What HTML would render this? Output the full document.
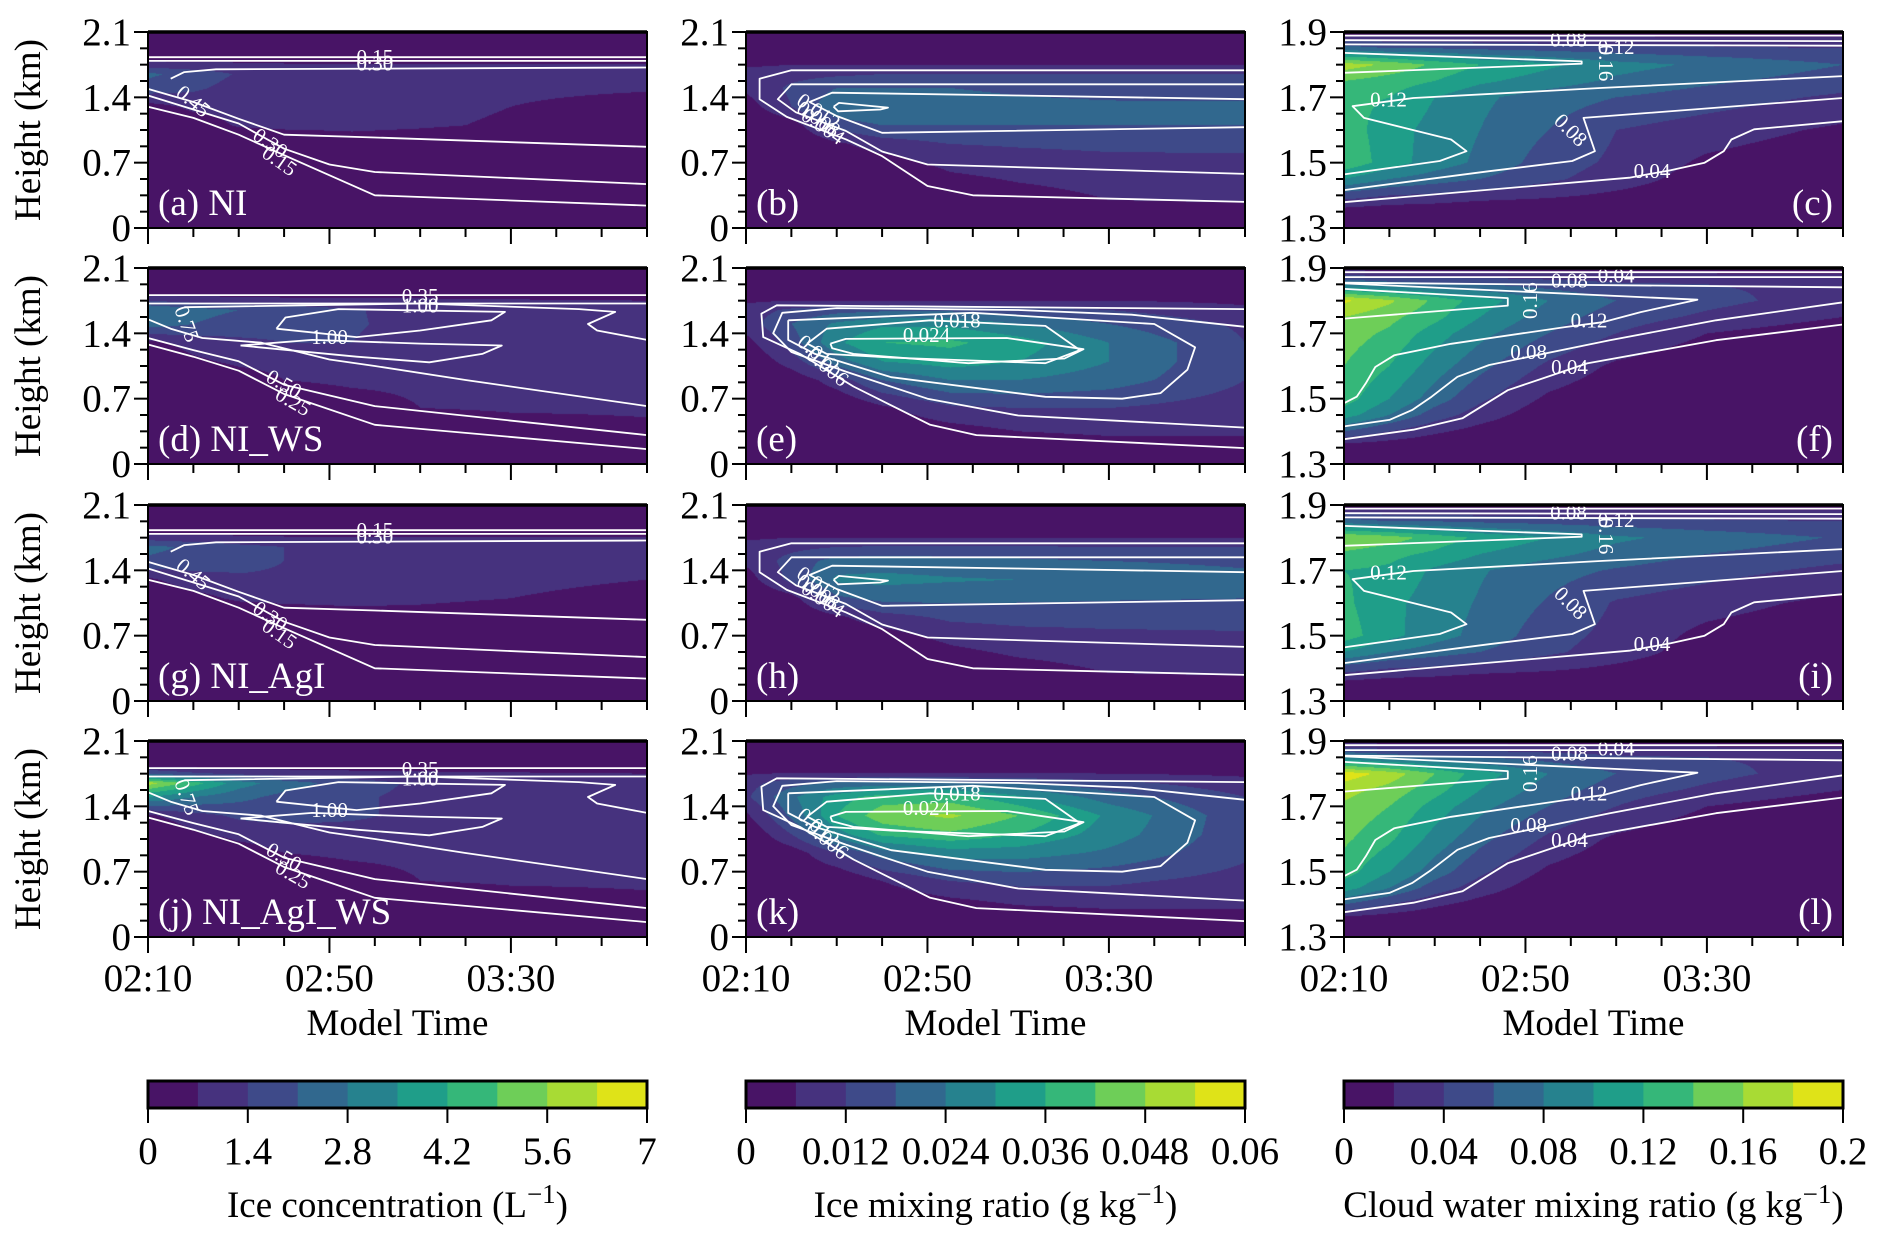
<!DOCTYPE html>
<html><head><meta charset="utf-8">
<style>
html,body{margin:0;padding:0;background:#fff;}
#wrap{position:relative;width:1892px;height:1246px;overflow:hidden;}
canvas{position:absolute;}
svg{position:absolute;left:0;top:0;font-family:"Liberation Serif",serif;}
svg text{font-family:"Liberation Serif",serif;}
</style></head>
<body>
<div id="wrap">
<svg id="ov" width="1892" height="1246" font-family="Liberation Serif, serif"></svg>
</div>
<script>
// ---- data (grids in contour-level units: value / level step) ----
const times=[0,10,20,30,45,60,80,110];            // minutes after 02:10
const hIce=[0,0.3,0.6,0.9,1.1,1.3,1.5,1.65,1.75,1.85,2.1];
const hCw=[1.3,1.35,1.4,1.45,1.5,1.6,1.7,1.75,1.8,1.85,1.9];
const xTickLabels=['02:10','02:50','03:30'];
const iceTicks=['0','0.7','1.4','2.1'];
const cwTicks=['1.3','1.5','1.7','1.9'];
const cbIceLabels=['0','1.4','2.8','4.2','5.6','7'];
const cbMixLabels=['0','0.012','0.024','0.036','0.048','0.06'];
const cbCwLabels=['0','0.04','0.08','0.12','0.16','0.2'];
const colors=['#481466','#46327e','#3e4a89','#31688e','#26828e','#1f9e89','#35b779','#6ece58','#a8db34','#dfe318'];

const gridA=[[0,0,0,0,0,0,0,0],[0,0,0,0,0,0,0,0],[0,0,0,0,0,0,0,0],[0,0,0,0.3,0.6,0.5,0.3,0.2],[0,0.5,1.1,1.2,1.2,1.1,0.9,0.6],[0.6,1.2,1.3,1.3,1.3,1.2,1.0,0.8],[2.6,2.2,1.6,1.4,1.3,1.2,1.1,1.05],[3.2,2.6,1.9,1.4,1.3,1.2,1.2,1.1],[1.4,1.3,1.2,1.1,1.1,1.1,1.1,1.1],[0.3,0.3,0.3,0.3,0.3,0.3,0.3,0.3],[0,0,0,0,0,0,0,0]];
const gridG=[[0,0,0,0,0,0,0,0],[0,0,0,0,0,0,0,0],[0,0,0,0,0,0,0,0],[0,0,0,0.3,0.6,0.6,0.4,0.2],[0,0.6,1.2,1.3,1.3,1.2,1.0,0.7],[0.8,1.6,1.9,1.9,1.8,1.5,1.2,1.0],[2.8,2.5,2.2,2.0,2.0,1.8,1.4,1.2],[3.3,2.8,2.3,2.0,1.9,1.6,1.3,1.2],[1.5,1.3,1.2,1.1,1.1,1.1,1.1,1.1],[0.3,0.3,0.3,0.3,0.3,0.3,0.3,0.3],[0,0,0,0,0,0,0,0]];
const gridD=[[0,0,0,0,0,0,0,0],[0,0,0,0,0,0,0.5,0.8],[0,0,0,0,0.5,1.0,1.1,1.1],[0,0,0.5,1.0,1.2,1.2,1.2,1.1],[0,0.8,1.2,1.3,1.3,1.3,1.2,1.1],[0.7,1.4,1.8,2.0,2.0,1.6,1.3,1.1],[3.5,3.0,2.5,2.3,2.1,1.7,1.3,1.1],[4.0,3.4,3.0,2.6,2.1,1.6,1.3,1.1],[2.0,1.6,1.4,1.3,1.2,1.2,1.1,1.0],[0.4,0.4,0.4,0.4,0.4,0.4,0.4,0.4],[0,0,0,0,0,0,0,0]];
const gridJ=[[0,0,0,0,0,0,0,0],[0,0,0,0,0,0,0.5,0.8],[0,0,0,0,0.5,1.0,1.1,1.1],[0,0,0.5,1.0,1.2,1.2,1.2,1.1],[0,0.8,1.3,1.5,1.5,1.4,1.2,1.1],[0.8,1.6,2.2,2.4,2.2,1.7,1.3,1.1],[5.0,4.0,3.3,2.7,2.2,1.7,1.3,1.1],[8.5,6.5,4.5,3.5,2.5,1.8,1.3,1.1],[3.0,2.2,1.8,1.5,1.3,1.2,1.1,1.0],[0.4,0.4,0.4,0.4,0.4,0.4,0.4,0.4],[0,0,0,0,0,0,0,0]];
const gridB=[[0,0,0,0,0,0,0,0],[0,0,0,0,0,0.5,1.0,1.1],[0,0,0,0,1.0,1.3,1.5,1.6],[0,0,0.8,1.5,2.0,2.1,2.2,2.2],[0,0.5,2.5,3.0,3.0,3.0,3.0,3.0],[0.5,2.0,3.8,4.0,3.5,3.3,3.2,3.2],[1.2,2.2,3.0,3.0,3.0,2.8,2.6,2.5],[1.5,1.6,1.8,2.0,2.0,2.0,2.0,2.0],[0.8,1.0,1.0,1.0,1.0,1.0,1.0,1.0],[0,0,0,0,0,0,0,0],[0,0,0,0,0,0,0,0]];
const gridH=[[0,0,0,0,0,0,0,0],[0,0,0,0,0,0.5,1.0,1.1],[0,0,0,0,1.0,1.4,1.6,1.7],[0,0,0.8,1.6,2.2,2.3,2.3,2.3],[0,0.6,2.8,3.3,3.3,3.2,3.1,3.0],[0.5,2.3,4.2,4.3,4.1,4.0,3.8,3.3],[1.2,2.4,3.4,3.5,3.4,3.2,3.0,2.8],[1.5,1.7,2.0,2.1,2.1,2.1,2.0,2.0],[0.8,1.0,1.0,1.0,1.0,1.0,1.0,1.0],[0,0,0,0,0,0,0,0],[0,0,0,0,0,0,0,0]];
const gridE=[[0,0,0,0,0,0,0,0],[0,0,0,0,0.3,0.8,1.0,1.0],[0,0,0,0.8,1.8,2.0,2.0,1.5],[0,0.3,1.5,3.0,4.0,4.0,3.5,2.0],[0,1.5,3.5,5.0,5.5,5.0,4.0,2.0],[0.6,2.5,4.8,6.0,6.2,5.5,4.0,2.0],[1.5,3.0,4.2,4.8,4.8,4.0,3.0,1.8],[1.5,2.2,2.6,2.8,2.8,2.5,2.0,1.2],[0.8,1.0,1.0,1.0,1.0,1.0,1.0,0.8],[0.2,0.2,0.2,0.2,0.2,0.2,0.2,0.2],[0,0,0,0,0,0,0,0]];
const gridK=[[0,0,0,0,0,0,0,0],[0,0,0,0,0.3,0.8,1.0,1.0],[0,0,0,1.0,2.0,2.3,2.2,1.6],[0,0.4,2.0,3.5,4.5,4.5,3.8,2.2],[0,2.0,4.5,6.2,6.8,6.0,4.5,2.3],[0.8,3.2,6.0,7.6,8.2,7.0,4.8,2.3],[1.8,3.8,5.5,6.5,6.5,5.2,3.5,2.0],[1.6,2.6,3.2,3.4,3.4,3.0,2.3,1.4],[0.9,1.1,1.1,1.1,1.1,1.1,1.0,0.8],[0.2,0.2,0.2,0.2,0.2,0.2,0.2,0.2],[0,0,0,0,0,0,0,0]];
const gridC=[[0,0,0,0,0,0,0,0],[0.5,0.3,0.2,0,0,0,0,0],[2.5,2.0,1.8,1.5,1.2,0.8,0.3,0],[5,4,3.5,3,2.2,1.5,0.5,0],[6.8,5.5,4.5,3.8,2.5,1.8,0.8,0.2],[6.5,5.5,4.6,4,3,2,1.5,0.8],[6.2,6,5,4.2,3.5,3,2.5,1.8],[7,6.5,6,5.2,4.5,3.8,3.2,2.5],[8.5,7.8,6.8,6,5.2,4.4,3.8,3],[3.5,3,3,2.8,2.6,2.4,2.2,2],[0.5,0.5,0.5,0.5,0.5,0.5,0.5,0.5]];
const gridI=[[0,0,0,0,0,0,0,0],[0.5,0.3,0.2,0,0,0,0,0],[2.5,2.0,1.8,1.5,1.2,0.8,0.3,0],[5,4,3.5,3,2.2,1.5,0.5,0],[6.5,5.3,4.4,3.7,2.4,1.7,0.7,0.2],[6.2,5.3,4.5,3.9,2.9,1.9,1.4,0.7],[6,5.8,4.8,4.1,3.4,2.9,2.4,1.7],[6.8,6.3,5.8,5,4.3,3.6,3,2.4],[8,7.5,6.6,5.8,5,4.2,3.6,2.9],[3.5,3,3,2.8,2.6,2.4,2.2,2],[0.5,0.5,0.5,0.5,0.5,0.5,0.5,0.5]];
const gridF=[[0,0,0,0,0,0,0,0],[0.3,0.2,0,0,0,0,0,0],[3,2,1.2,0.6,0,0,0,0],[5.5,4,2.5,1.5,0.3,0,0,0],[6.5,5,3.5,2.2,0.8,0.2,0,0],[7,6,4.5,3.3,1.8,0.8,0.2,0],[7.5,6.8,5.5,4.3,3,2,1,0.3],[8,7.3,6.3,5,3.5,2.5,1.8,1],[9.2,8.2,6.8,5.5,4,3,2.3,1.5],[4,3.5,3.2,3,2.6,2.2,2,1.8],[0.5,0.5,0.5,0.5,0.5,0.5,0.5,0.5]];
const gridL=[[0,0,0,0,0,0,0,0],[0.3,0.2,0,0,0,0,0,0],[3,2,1.2,0.6,0,0,0,0],[5.5,4,2.5,1.5,0.3,0,0,0],[6.5,5,3.5,2.2,0.8,0.2,0,0],[7.2,6.2,4.6,3.3,1.8,0.8,0.2,0],[7.8,7,5.6,4.3,3,2,1,0.3],[8.4,7.6,6.4,5,3.5,2.5,1.8,1],[9.6,8.6,7,5.5,4,3,2.3,1.5],[4.2,3.6,3.2,3,2.6,2.2,2,1.8],[0.5,0.5,0.5,0.5,0.5,0.5,0.5,0.5]];

// contour lines: arrays of [minutes, height]
const linesA=[[[0,1.83],[110,1.83]],[[0,1.79],[110,1.79]],[[5,1.60],[8,1.67],[15,1.70],[110,1.72]],[[0,1.49],[10,1.35],[20,1.17],[30,1.0],[50,0.97],[110,0.87]],[[0,1.42],[10,1.27],[20,1.12],[30,0.85],[40,0.68],[50,0.6],[110,0.47]],[[0,1.3],[10,1.18],[20,1.0],[30,0.78],[50,0.35],[110,0.24]]];
const labelsA=[[50,1.83,'0.15',0],[50,1.76,'0.30',0],[10,1.36,'0.45',40],[27,0.91,'0.30',35],[29,0.72,'0.15',35]];
const linesD=[[[0,1.81],[110,1.81]],[[0,1.72],[110,1.72]],[[28.3,1.45],[30.3,1.57],[42,1.66],[78.7,1.63],[75.7,1.54],[60,1.43],[46,1.36],[28.3,1.45]],[[20.4,1.27],[36.2,1.33],[60,1.29],[78,1.27],[73.7,1.18],[62,1.09],[46,1.15],[20.4,1.27]],[[8,1.68],[60,1.72],[95,1.66],[103,1.63],[97,1.5],[99,1.43],[110,1.33]],[[0,1.55],[5,1.45],[12,1.35],[25,1.3],[40,1.12],[50,1.05],[70,0.9],[110,0.62]],[[0,1.35],[10,1.22],[20,1.1],[30,0.85],[50,0.62],[110,0.31]],[[0,1.28],[10,1.15],[20,1.0],[30,0.75],[50,0.42],[110,0.16]]];
const labelsD=[[60,1.80,'0.35',0],[60,1.70,'1.00',0],[40,1.36,'1.00',0],[8.6,1.5,'0.75',70],[30,0.86,'0.50',30],[32,0.67,'0.25',30]];
const linesB=[[[110,1.69],[10,1.69],[3,1.60],[3,1.38],[9,1.19],[22,0.95],[30,0.77],[40,0.45],[50,0.35],[110,0.28]],[[110,1.54],[10,1.54],[7,1.38],[11,1.24],[22,1.04],[30,0.82],[40,0.68],[110,0.58]],[[110,1.38],[60,1.42],[19,1.45],[14,1.35],[20,1.20],[30,1.02],[110,1.08]],[[19.3,1.30],[20.5,1.34],[31.3,1.29],[29.6,1.27],[20.3,1.25],[19.3,1.30]]];
const labelsB=[[16,1.25,'0.012',35],[16,1.17,'0.008',35],[17,1.09,'0.004',35]];
const linesE=[[[110,1.66],[6.8,1.70],[3.4,1.61],[3.8,1.36],[11.9,1.18],[23.7,0.83],[40.6,0.42],[50.8,0.31],[110,0.17]],[[110,1.47],[85,1.60],[60,1.65],[20,1.67],[8,1.62],[6,1.40],[10,1.2],[22,0.99],[40,0.7],[60,0.52],[110,0.39]],[[9.3,1.54],[50,1.62],[90,1.50],[99,1.25],[97.3,1.01],[91.4,0.76],[82.9,0.70],[66,0.72],[32,0.93],[15.2,1.18],[9.3,1.33],[9.3,1.54]],[[13.5,1.29],[17.8,1.45],[40.6,1.54],[66,1.48],[73.6,1.22],[66,1.08],[32.1,1.14],[17.8,1.18],[13.5,1.29]],[[18.6,1.29],[22,1.34],[57.5,1.35],[74.4,1.23],[70.2,1.13],[49,1.08],[23.7,1.18],[19,1.24],[18.6,1.29]]];
const labelsE=[[46.5,1.54,'0.018',0],[39.8,1.38,'0.024',0],[16,1.18,'0.012',40],[18,1.04,'0.006',40]];
const linesC=[[[0,1.889],[110,1.889]],[[0,1.875],[110,1.872]],[[0,1.862],[110,1.858]],[[0,1.836],[52.4,1.81],[52.4,1.803],[0,1.775]],[[110,1.765],[57,1.729],[15.3,1.698],[1.9,1.673],[4.4,1.637],[23.6,1.571],[27,1.535],[21.1,1.505],[0,1.464]],[[110,1.698],[52.8,1.637],[55.3,1.535],[50.3,1.505],[32,1.474],[0,1.416]],[[110,1.627],[90.4,1.602],[85.4,1.571],[83.7,1.535],[79.5,1.5],[72,1.477],[62.9,1.454],[0,1.379]]];
const labelsC=[[49.5,1.877,'0.08',0],[60,1.854,'0.12',0],[57.8,1.805,'0.16',90],[9.8,1.693,'0.12',0],[50,1.6,'0.08',45],[67.9,1.474,'0.04',0]];
const linesF=[[[0,1.887],[110,1.887]],[[0,1.872],[110,1.872]],[[0,1.855],[110,1.841]],[[0,1.836],[36.1,1.808],[36.1,1.785],[0,1.745]],[[0,1.853],[77.9,1.803],[65.4,1.765],[57,1.734],[48.7,1.719],[23.6,1.668],[11.1,1.633],[6.9,1.597],[4.8,1.547],[2.8,1.506],[0,1.486]],[[110,1.795],[82,1.74],[58.6,1.679],[32,1.603],[25,1.567],[19.3,1.506],[15,1.465],[10,1.435],[0,1.415]],[[110,1.727],[82,1.679],[53.6,1.608],[36.1,1.526],[26.1,1.44],[15.3,1.405],[0,1.376]]];
const labelsF=[[49.7,1.861,'0.08',0],[60,1.877,'0.04',0],[41,1.8,'0.16',-90],[54,1.74,'0.12',0],[40.7,1.643,'0.08',0],[49.7,1.597,'0.04',0]];

// ---- layout ----
const colX=[148,746,1344], colW=499;
const rowY=[32,268,505,741], rowH=196;
const NS='http://www.w3.org/2000/svg';
const svg=document.getElementById('ov');
const wrap=document.getElementById('wrap');
const FF='Liberation Serif, serif';
function el(tag,attrs,parent){const e=document.createElementNS(NS,tag);for(const k in attrs)e.setAttribute(k,attrs[k]);if(tag==='text')e.setAttribute('font-family',FF);(parent||svg).appendChild(e);return e;}
function interp(grid,H,t,h){
  let i=0;while(i<times.length-2&&t>times[i+1])i++;
  let j=0;while(j<H.length-2&&h>H[j+1])j++;
  const fx=Math.max(0,Math.min(1,(t-times[i])/(times[i+1]-times[i])));
  const fy=Math.max(0,Math.min(1,(h-H[j])/(H[j+1]-H[j])));
  const a=grid[j][i],b=grid[j][i+1],c=grid[j+1][i],d=grid[j+1][i+1];
  return a*(1-fx)*(1-fy)+b*fx*(1-fy)+c*(1-fx)*fy+d*fx*fy;
}
function hex(c){return [parseInt(c.slice(1,3),16),parseInt(c.slice(3,5),16),parseInt(c.slice(5,7),16)];}
const rgb=colors.map(hex);

const panels=[
 {r:0,c:0,g:gridA,l:linesA,lb:labelsA,tag:'(a) NI',n:'a'},
 {r:0,c:1,g:gridB,l:linesB,lb:labelsB,tag:'(b)',n:'b'},
 {r:0,c:2,g:gridC,l:linesC,lb:labelsC,tag:'(c)',n:'c'},
 {r:1,c:0,g:gridD,l:linesD,lb:labelsD,tag:'(d) NI_WS',n:'d'},
 {r:1,c:1,g:gridE,l:linesE,lb:labelsE,tag:'(e)',n:'e'},
 {r:1,c:2,g:gridF,l:linesF,lb:labelsF,tag:'(f)',n:'f'},
 {r:2,c:0,g:gridG,l:linesA,lb:labelsA,tag:'(g) NI_AgI',n:'g'},
 {r:2,c:1,g:gridH,l:linesB,lb:labelsB,tag:'(h)',n:'h'},
 {r:2,c:2,g:gridI,l:linesC,lb:labelsC,tag:'(i)',n:'i'},
 {r:3,c:0,g:gridJ,l:linesD,lb:labelsD,tag:'(j) NI_AgI_WS',n:'j'},
 {r:3,c:1,g:gridK,l:linesE,lb:labelsE,tag:'(k)',n:'k'},
 {r:3,c:2,g:gridL,l:linesF,lb:labelsF,tag:'(l)',n:'l'}
];

panels.forEach(p=>{
  const x0=colX[p.c], y0=rowY[p.r];
  const cw=p.c===2;
  const H=cw?hCw:hIce, ymin=cw?1.3:0, ymax=cw?1.9:2.1;
  const sx=t=>x0+t/110*colW;
  const sy=h=>y0+rowH-(h-ymin)/(ymax-ymin)*rowH;
  const cv=document.createElement('canvas');
  cv.width=colW;cv.height=rowH;cv.style.left=x0+'px';cv.style.top=y0+'px';
  
  
  wrap.insertBefore(cv,svg);
  const ctx=cv.getContext('2d');const img=ctx.createImageData(colW,rowH);
  for(let y=0;y<rowH;y++){const h=ymax-(y+0.5)/rowH*(ymax-ymin);
    for(let x=0;x<colW;x++){const t=(x+0.5)/colW*110;
      let v=Math.floor(interp(p.g,H,t,h));v=Math.max(0,Math.min(9,v));
      const k=(y*colW+x)*4;img.data[k]=rgb[v][0];img.data[k+1]=rgb[v][1];img.data[k+2]=rgb[v][2];img.data[k+3]=255;}}
  ctx.putImageData(img,0,0);
  const g=el('g',{});
  
  
  p.l.forEach(line=>{
    const pl=el('polyline',{points:line.map(q=>sx(q[0]).toFixed(1)+','+sy(q[1]).toFixed(1)).join(' '),fill:'none',stroke:'#fff','stroke-width':1.8,'stroke-linejoin':'round'},g);
    
    
  });
  p.lb.forEach(q=>{
    const tx=el('text',{x:sx(q[0]),y:sy(q[1]),fill:'#fff','font-size':21,'text-anchor':'middle','dominant-baseline':'central',transform:'rotate('+q[3]+' '+sx(q[0])+' '+sy(q[1])+')'},g);
    tx.textContent=q[2];
    
    
  });
  const fr=el('rect',{x:x0,y:y0,width:colW,height:rowH,fill:'none',stroke:'#000','stroke-width':2},g);
  
  
  el('line',{x1:x0,x2:x0+colW,y1:y0,y2:y0,stroke:'#000','stroke-width':3.5},g);
  const ymajor=cw?[1.3,1.5,1.7,1.9]:[0,0.7,1.4,2.1];
  const ystep=cw?0.05:0.175;
  for(let v=ymin;v<=ymax+1e-6;v+=ystep){
    const isMaj=ymajor.some(m=>Math.abs(m-v)<1e-6);
    el('line',{x1:x0,x2:x0-(isMaj?14:8),y1:sy(v),y2:sy(v),stroke:'#000','stroke-width':2},g);
  }
  const yl=cw?cwTicks:iceTicks;
  ymajor.forEach((m,i)=>{
    const tx=el('text',{x:x0-17,y:sy(m)+13,'font-size':39,'text-anchor':'end',fill:'#000'},g);
    tx.textContent=yl[i];
    
    
  });
  for(let t=0;t<=110;t+=10){
    const isMaj=t%40===0;
    el('line',{x1:sx(t),x2:sx(t),y1:y0+rowH,y2:y0+rowH+(isMaj?16:9),stroke:'#000','stroke-width':2},g);
  }
  if(p.r===3){
    [0,40,80].forEach((t,i)=>{
      const tx=el('text',{x:sx(t),y:y0+rowH+54,'font-size':39,'text-anchor':'middle',fill:'#000'},g);
      tx.textContent=xTickLabels[i];
      
      
    });
    const xt=el('text',{x:x0+colW/2,y:1035,'font-size':37,'text-anchor':'middle',fill:'#000'},g);
    xt.textContent='Model Time';
    
    
  }
  if(p.c===0){
    const cy=y0+rowH/2;
    const yt=el('text',{x:40,y:cy,'font-size':37,'text-anchor':'middle',fill:'#000',transform:'rotate(-90 40 '+cy+')'},g);
    yt.textContent='Height (km)';
    
    
  }
  const pt=el('text',{x:p.c===2?x0+colW-10:x0+10,y:y0+rowH-13,'font-size':37,'text-anchor':p.c===2?'end':'start',fill:'#fff'},g);
  pt.textContent=p.tag;
  
  
});

const cbDefs=[[cbIceLabels,'Ice concentration (L','cbar-ice'],[cbMixLabels,'Ice mixing ratio (g kg','cbar-ice-mixing'],[cbCwLabels,'Cloud water mixing ratio (g kg','cbar-cloud-water']];
cbDefs.forEach((d,ci)=>{
  const x0=colX[ci], y0=1081, h=27;
  const g=el('g',{});
  
  
  colors.forEach((c,i)=>{el('rect',{x:x0+i*colW/10,y:y0,width:colW/10+0.5,height:h,fill:c},g);});
  el('rect',{x:x0,y:y0,width:colW,height:h,fill:'none',stroke:'#000','stroke-width':3},g);
  d[0].forEach((lab,i)=>{
    const x=x0+i*colW/5;
    el('line',{x1:x,x2:x,y1:y0+h,y2:y0+h+15,stroke:'#000','stroke-width':2},g);
    const tx=el('text',{x:x,y:1164,'font-size':39,'text-anchor':'middle',fill:'#000'},g);
    tx.textContent=lab;
    
    
  });
  const tl=el('text',{x:x0+colW/2,y:1217,'font-size':37,'text-anchor':'middle',fill:'#000'},g);
  
  
  tl.appendChild(document.createTextNode(d[1]));
  const s=el('tspan',{dy:-14,'font-size':27},tl);s.textContent='\u22121';
  const e=el('tspan',{dy:14},tl);e.textContent=')';
});
</script>
</body></html>
